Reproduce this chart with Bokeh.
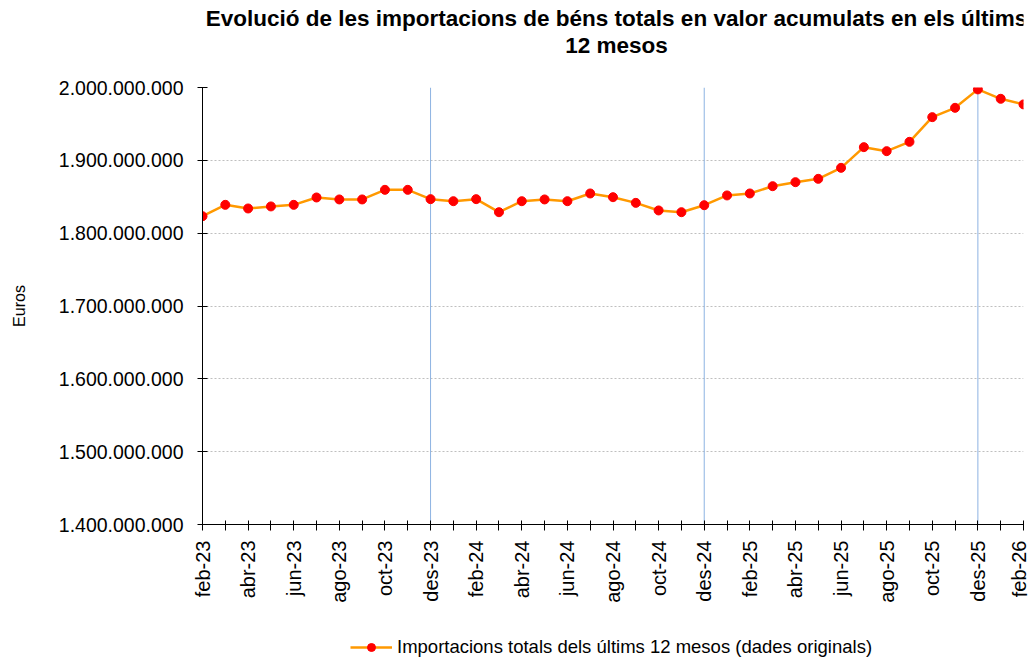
from bokeh.plotting import figure
from bokeh.layouts import column
from bokeh.models import Range1d, FixedTicker, Label, Legend, LegendItem
from bokeh.embed import file_html
from bokeh.resources import INLINE

months = ["feb-23", "mar-23", "abr-23", "mai-23", "jun-23", "jul-23", "ago-23", "set-23",
          "oct-23", "nov-23", "des-23", "gen-24", "feb-24", "mar-24", "abr-24", "mai-24",
          "jun-24", "jul-24", "ago-24", "set-24", "oct-24", "nov-24", "des-24", "gen-25",
          "feb-25", "mar-25", "abr-25", "mai-25", "jun-25", "jul-25", "ago-25", "set-25",
          "oct-25", "nov-25", "des-25", "gen-26", "feb-26"]

imports_m = [1823.3, 1838.9, 1833.9, 1836.7, 1838.9, 1849.0, 1846.3, 1846.3,
             1859.5, 1859.5, 1846.7, 1843.9, 1846.7, 1828.8, 1843.9, 1846.3,
             1843.9, 1854.5, 1849.4, 1841.6, 1831.2, 1828.8, 1838.4, 1851.8,
             1854.5, 1864.5, 1870.0, 1874.6, 1889.7, 1918.1, 1912.6, 1925.4,
             1959.3, 1972.1, 1997.4, 1984.5, 1976.8]

y_ticks = [1400000000, 1500000000, 1600000000, 1700000000, 1800000000, 1900000000, 2000000000]

title_line1 = "Evolució de les importacions de béns totals en valor acumulats en els últims"
title_line2 = "12 mesos"
y_label = "Euros"
series_name = "Importacions totals dels últims 12 mesos (dades originals)"

FONT = "Liberation Sans"
LINE_COLOR = "#FF9900"
MARK_COLOR = "#FF0000"

x = list(range(len(months)))
y = [v * 1e6 for v in imports_m]


def strip(height):
    f = figure(width=1030, height=height, output_backend="svg", toolbar_location=None,
               x_range=Range1d(0, 1), y_range=Range1d(0, 1),
               x_axis_location=None, y_axis_location=None,
               min_border_left=202, min_border_right=7, min_border_top=0, min_border_bottom=0)
    f.outline_line_color = None
    f.xgrid.visible = False
    f.ygrid.visible = False
    return f


# title strip above the chart
tf = strip(60)
for txt, yy in ((title_line1, 42), (title_line2, 15)):
    tf.add_layout(Label(x=414, y=yy, x_units="screen", y_units="screen", text=txt,
                        text_align="center", text_baseline="middle", text_font=FONT,
                        text_font_size="22.5px", text_font_style="bold", text_color="black"))

p = figure(width=1030, height=570, output_backend="svg", toolbar_location=None,
           x_range=Range1d(0, len(months) - 1), y_range=Range1d(y_ticks[0], y_ticks[-1]),
           min_border_left=202, min_border_right=7, min_border_top=27, min_border_bottom=106)
p.outline_line_color = None
p.background_fill_color = "white"

# vertical blue lines at December
des_idx = [i for i, m in enumerate(months) if m.startswith("des")]
p.segment(x0=des_idx, x1=des_idx, y0=[y_ticks[0]] * len(des_idx), y1=[y_ticks[-1]] * len(des_idx),
          line_color="#8DB3E2", line_width=1)

p.line(x, y, line_color=LINE_COLOR, line_width=2.5)
p.scatter(x, y, size=9, fill_color=MARK_COLOR, line_color=MARK_COLOR)

# x axis
xa = p.xaxis[0]
xa.ticker = FixedTicker(ticks=[i for i in x if i % 2 == 0], minor_ticks=[i for i in x if i % 2 == 1])
xa.major_label_overrides = {i: months[i] for i in x}
xa.major_label_orientation = 1.5708
xa.major_label_text_font = FONT
xa.major_label_text_font_size = "20px"
xa.major_label_text_color = "black"
xa.major_label_standoff = 10
xa.axis_line_color = "black"
xa.major_tick_line_color = "black"
xa.minor_tick_line_color = "black"
xa.major_tick_in = 4
xa.major_tick_out = 6
xa.minor_tick_in = 4
xa.minor_tick_out = 6

# y axis
ya = p.yaxis[0]
ya.ticker = FixedTicker(ticks=y_ticks, minor_ticks=[])
ya.major_label_overrides = {t: f"{t:,}".replace(",", ".") for t in y_ticks}
ya.major_label_text_font = FONT
ya.major_label_text_font_size = "19.5px"
ya.major_label_text_color = "black"
ya.major_label_standoff = 14
ya.axis_label = y_label
ya.axis_label_text_font = FONT
ya.axis_label_text_font_size = "16px"
ya.axis_label_text_font_style = "normal"
ya.axis_label_text_color = "black"
ya.axis_label_standoff = 28
ya.axis_line_color = "black"
ya.major_tick_line_color = "black"
ya.major_tick_in = 5
ya.major_tick_out = 5
ya.minor_tick_line_color = None

p.xgrid.grid_line_color = None
p.ygrid.grid_line_color = "#BFBFBF"
p.ygrid.grid_line_dash = "2 2"
p.ygrid.ticker = FixedTicker(ticks=y_ticks[1:])

# legend strip below the chart (its frame is aligned with the chart frame)
lf = strip(34)
nan = float("nan")
lr = lf.line(x=[nan], y=[nan], line_color=LINE_COLOR, line_width=2.5)
ls = lf.scatter(x=[nan], y=[nan], size=9, fill_color=MARK_COLOR, line_color=MARK_COLOR)
legend = Legend(items=[LegendItem(label=series_name, renderers=[lr, ls])],
                location=(148, 6), orientation="horizontal",
                label_text_font=FONT, label_text_font_size="18.5px", label_text_color="black",
                glyph_width=42, border_line_color=None, background_fill_alpha=0,
                margin=0, padding=0, spacing=0, label_standoff=5)
lf.add_layout(legend, "center")

layout = column(tf, p, lf, spacing=0)
open("out.html", "w").write(file_html(layout, INLINE))
